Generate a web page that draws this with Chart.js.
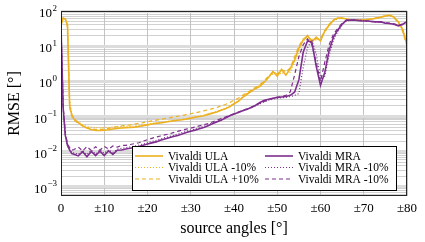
<!DOCTYPE html>
<html lang="en">
<head>
<meta charset="UTF-8">
<title>RMSE vs source angles</title>
<script src="https://cdn.jsdelivr.net/npm/chart.js"></script>
<style>
  body { margin: 0; background: #fff; }
  #wrap { width: 425px; height: 242px; position: relative; }
</style>
</head>
<body>
<div id="wrap"><canvas id="rmseChart"></canvas></div>
<script>
// source angle (deg) and RMSE (deg)
const angles = [0, 0.5, 1, 1.5, 2, 2.5, 3,
  4, 5, 6, 7, 8, 9, 10,
  11, 12, 13, 14, 15, 16, 17, 18, 19, 20,
  21, 22, 23, 24, 25, 26, 27, 28, 29, 30,
  31, 32, 33, 34, 35, 36, 37, 38, 39, 40,
  41, 42, 43, 44, 45, 46, 47, 48, 49, 50,
  51, 52, 53, 54, 55, 56, 57, 58, 59, 60,
  61, 62, 63, 64, 65, 66, 67, 68, 69, 70,
  71, 72, 73, 74, 75, 76, 77, 78, 79, 80];

const ulaRmse = [40, 63, 59, 40, 0.2, 0.11, 0.085,
  0.067, 0.054, 0.047, 0.043, 0.040, 0.040, 0.041,
  0.042, 0.044, 0.046, 0.047, 0.048, 0.049, 0.050, 0.052, 0.055, 0.058,
  0.061, 0.064, 0.066, 0.069, 0.072, 0.075, 0.078, 0.081, 0.085, 0.09,
  0.095, 0.1, 0.105, 0.115, 0.125, 0.135, 0.15, 0.165, 0.19, 0.23,
  0.27, 0.35, 0.43, 0.52, 0.63, 0.72, 0.94, 1.3, 1.9, 1.4,
  2.2, 1.5, 2.3, 4, 8.8, 15, 20, 13, 18, 14,
  27, 40, 55, 63, 63, 59, 55, 55, 55, 55,
  58, 59, 63, 67, 72, 77, 67, 49, 29, 11];

const ulaMinusRmse = [40, 62, 60, 45, 0.3, 0.12, 0.09,
  0.07, 0.058, 0.053, 0.05, 0.049, 0.048, 0.049,
  0.049, 0.05, 0.051, 0.052, 0.052, 0.053, 0.054, 0.056, 0.058, 0.06,
  0.063, 0.066, 0.068, 0.071, 0.074, 0.077, 0.08, 0.083, 0.087, 0.092,
  0.097, 0.102, 0.108, 0.118, 0.128, 0.14, 0.155, 0.17, 0.2, 0.24,
  0.29, 0.36, 0.45, 0.55, 0.66, 0.78, 1.0, 1.4, 1.6, 1.9,
  1.6, 2.1, 1.8, 3.5, 7.5, 14, 17, 16, 15, 17,
  25, 38, 52, 60, 62, 60, 56, 54, 55, 56,
  57, 60, 62, 66, 70, 74, 66, 50, 30, 12];

const ulaPlusRmse = [40, 63, 58, 35, 0.18, 0.1, 0.08,
  0.064, 0.054, 0.048, 0.045, 0.043, 0.043, 0.044,
  0.046, 0.049, 0.052, 0.054, 0.056, 0.058, 0.061, 0.064, 0.067, 0.071,
  0.075, 0.079, 0.083, 0.087, 0.092, 0.097, 0.102, 0.107, 0.113, 0.12,
  0.127, 0.135, 0.145, 0.155, 0.168, 0.18, 0.2, 0.22, 0.25, 0.29,
  0.33, 0.4, 0.48, 0.57, 0.68, 0.8, 1.05, 1.4, 1.8, 1.6,
  2.1, 1.9, 2.4, 5, 10, 16, 18, 15, 16, 16,
  28, 42, 56, 62, 62, 58, 54, 55, 56, 55,
  57, 60, 64, 68, 73, 75, 64, 46, 26, 10];

const mraRmse = [37, 0.17, 0.029, 0.015, 0.011, 0.0088, 0.0085,
  0.0076, 0.0100, 0.0072, 0.0102, 0.0077, 0.0104, 0.0078,
  0.0106, 0.0084, 0.0110, 0.0112, 0.0119, 0.0125, 0.0132, 0.0140, 0.0152, 0.0165,
  0.0178, 0.019, 0.021, 0.023, 0.025, 0.027, 0.029, 0.032, 0.035, 0.038,
  0.041, 0.045, 0.049, 0.055, 0.062, 0.07, 0.078, 0.09, 0.105, 0.118,
  0.13, 0.145, 0.16, 0.18, 0.21, 0.25, 0.29, 0.31, 0.33, 0.35,
  0.36, 0.37, 0.4, 0.49, 1.1, 6.7, 14, 13, 2.7, 0.77,
  1.8, 7.7, 18, 29, 42, 55, 55, 55, 53, 52,
  52, 50, 49, 49, 45, 44, 42, 38, 42, 50];

const mraMinusDotRmse = [37, 0.18, 0.031, 0.016, 0.012, 0.0095, 0.0092,
  0.0084, 0.0108, 0.0082, 0.0110, 0.0086, 0.0112, 0.0090,
  0.0113, 0.0095, 0.0118, 0.0124, 0.013, 0.0137, 0.0145, 0.0154, 0.0166, 0.018,
  0.0195, 0.021, 0.023, 0.025, 0.027, 0.029, 0.032, 0.035, 0.038, 0.041,
  0.044, 0.048, 0.053, 0.058, 0.065, 0.073, 0.082, 0.093, 0.105, 0.115,
  0.13, 0.145, 0.16, 0.18, 0.2, 0.23, 0.26, 0.29, 0.31, 0.33,
  0.34, 0.35, 0.37, 0.4, 0.45, 2.5, 9, 15, 6, 1.3,
  1.4, 5.5, 15, 26, 40, 52, 54, 56, 55, 53,
  51, 50, 48, 48, 46, 44, 41, 39, 43, 49];

const mraMinusDashRmse = [37, 0.19, 0.033, 0.017, 0.013, 0.011, 0.0115,
  0.0135, 0.0105, 0.014, 0.0108, 0.0138, 0.011, 0.0142,
  0.0118, 0.0145, 0.0135, 0.015, 0.0152, 0.016, 0.017, 0.018, 0.02, 0.022,
  0.024, 0.026, 0.028, 0.03, 0.032, 0.035, 0.038, 0.041, 0.044, 0.047,
  0.05, 0.054, 0.058, 0.063, 0.07, 0.078, 0.087, 0.097, 0.108, 0.12,
  0.135, 0.15, 0.165, 0.185, 0.21, 0.24, 0.27, 0.3, 0.33, 0.35,
  0.37, 0.4, 0.5, 1.5, 5, 11, 16, 11, 3.5, 1.0,
  3.5, 11, 22, 32, 45, 54, 56, 55, 54, 53,
  52, 51, 50, 48, 46, 45, 43, 40, 41, 48];

const seriesLabels = ['Vivaldi ULA', 'Vivaldi ULA -10%', 'Vivaldi ULA +10%',
  'Vivaldi MRA', 'Vivaldi MRA -10%', 'Vivaldi MRA -10%'];
const xTicks = [0, 10, 20, 30, 40, 50, 60, 70, 80];
const yExponents = [-3, -2, -1, 0, 1, 2];

const ORANGE = '#EDB120';
const PURPLE = '#7E2F8E';
const SERIF = '"Liberation Serif", "DejaVu Serif", serif';

function pts(values) {
  return angles.map((a, i) => ({ x: a, y: values[i] }));
}

function line(label, values, color, dash, width, order) {
  return {
    label: label, data: pts(values), borderColor: color, backgroundColor: color,
    borderDash: dash, borderWidth: width, pointRadius: 0, tension: 0,
    fill: false, order: order
  };
}

function isDecade(v) {
  const l = Math.log10(v);
  return Math.abs(l - Math.round(l)) < 1e-6;
}

// frame, y labels with exponents and the boxed legend
const decorations = {
  id: 'decorations',
  afterDraw(chart) {
    const ctx = chart.ctx;
    const a = chart.chartArea;
    const y = chart.scales.y;
    ctx.save();
    ctx.strokeStyle = '#262626';
    ctx.lineWidth = 1;
    ctx.strokeRect(a.left + 0.5, a.top + 0.5, a.right - a.left - 1, a.bottom - a.top - 1);

    ctx.fillStyle = '#000';
    ctx.textAlign = 'left';
    ctx.textBaseline = 'alphabetic';
    yExponents.forEach(e => {
      const py = y.getPixelForValue(Math.pow(10, e));
      const sup = e < 0 ? '\u2212' + (-e) : String(e);
      ctx.font = '9px ' + SERIF;
      const sw = ctx.measureText(sup).width;
      ctx.font = '13px ' + SERIF;
      const bw = ctx.measureText('10').width;
      const right = a.left - 4;
      ctx.fillText('10', right - sw - bw - 0.5, py + 6);
      ctx.font = '9px ' + SERIF;
      ctx.fillText(sup, right - sw, py - 0.5);
    });

    // legend box
    const w = 264, h = 44;
    const x0 = a.right - 11 - w, y0 = a.bottom - 6 - h;
    ctx.fillStyle = '#fff';
    ctx.fillRect(x0, y0, w, h);
    ctx.strokeStyle = '#000';
    ctx.strokeRect(x0 + 0.5, y0 + 0.5, w, h);
    ctx.font = '11.5px ' + SERIF;
    ctx.textBaseline = 'middle';
    chart.data.datasets.forEach((ds, i) => {
      const col = Math.floor(i / 3), row = i % 3;
      const lx = x0 + 3 + col * 130;
      const ly = y0 + 10 + row * 11.5;
      ctx.strokeStyle = ds.borderColor;
      ctx.lineWidth = ds.borderWidth;
      ctx.setLineDash(ds.borderDash);
      ctx.beginPath();
      ctx.moveTo(lx, ly);
      ctx.lineTo(lx + 28, ly);
      ctx.stroke();
      ctx.setLineDash([]);
      ctx.fillStyle = '#000';
      ctx.fillText(ds.label, lx + 33, ly + 0.5);
    });
    ctx.restore();
  }
};

new Chart(document.getElementById('rmseChart'), {
  type: 'line',
  data: {
    datasets: [
      line(seriesLabels[0], ulaRmse, ORANGE, [], 1.6, 1),
      line(seriesLabels[1], ulaMinusRmse, ORANGE, [1, 2], 1.2, 1),
      line(seriesLabels[2], ulaPlusRmse, ORANGE, [4, 3], 1.2, 1),
      line(seriesLabels[3], mraRmse, PURPLE, [], 1.6, 0),
      line(seriesLabels[4], mraMinusDotRmse, PURPLE, [1, 2], 1.2, 0),
      line(seriesLabels[5], mraMinusDashRmse, PURPLE, [4, 3], 1.2, 0)
    ]
  },
  options: {
    responsive: true,
    maintainAspectRatio: false,
    animation: false,
    layout: { padding: { left: 0, top: 11, right: 18, bottom: 0 } },
    plugins: { legend: { display: false }, tooltip: { enabled: false } },
    scales: {
      x: {
        type: 'linear', min: 0, max: 80,
        afterBuildTicks: s => { s.ticks = xTicks.map(v => ({ value: v })); },
        afterFit: s => { s.height = 46; },
        border: { display: false },
        grid: { color: '#c4c4c4', lineWidth: 1, drawTicks: false },
        ticks: {
          color: '#000', padding: 5, autoSkip: false, maxRotation: 0,
          font: { family: SERIF, size: 13 },
          callback: v => v === 0 ? '0' : '\u00b1' + v
        },
        title: {
          display: true, text: 'source angles [\u00b0]', color: '#000',
          font: { family: SERIF, size: 16 }, padding: { top: 0, bottom: 4 }
        }
      },
      y: {
        type: 'logarithmic', min: 5.5e-4, max: 100,
        afterBuildTicks: s => {
          const t = [];
          for (let e = -4; e <= 2; e++) {
            for (let k = 1; k <= 9; k++) {
              const v = k * Math.pow(10, e);
              if (v >= 5.5e-4 && v <= 100.0001) t.push({ value: v });
            }
          }
          s.ticks = t;
        },
        afterFit: s => { s.width = 61; },
        border: { display: false },
        grid: {
          drawTicks: false,
          color: c => isDecade(c.tick.value) ? '#dcdcdc' : '#bdbdbd',
          lineWidth: c => isDecade(c.tick.value) ? 3 : 0.7
        },
        ticks: { display: false },
        title: {
          display: true, text: 'RMSE [\u00b0]', color: '#000',
          font: { family: SERIF, size: 16 }, padding: { top: 5, bottom: 0 }
        }
      }
    }
  },
  plugins: [decorations]
});
</script>
</body>
</html>
